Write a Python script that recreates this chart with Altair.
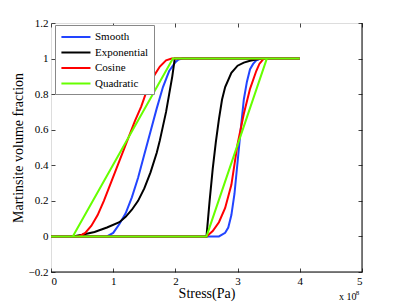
import altair as alt
import pandas as pd

series_names = ["Smooth", "Exponential", "Cosine", "Quadratic"]
series_colors = ["#2244ff", "#000000", "#ff0000", "#66ff00"]

smooth_x = [0, 2.5, 2.7, 2.8, 2.85, 2.9, 2.95, 3.0, 3.05, 3.1, 3.15, 3.2, 3.25, 3.3, 3.37, 4.0,
            2.12, 2.05, 2.0, 1.9, 1.8, 1.7, 1.6, 1.5, 1.4, 1.3, 1.2, 1.1, 1.0, 0.9]
smooth_y = [0, 0, 0, 0.02, 0.05, 0.12, 0.24, 0.42, 0.6, 0.77, 0.87, 0.94, 0.97, 0.99, 1.0, 1.0,
            1.0, 0.995, 0.98, 0.93, 0.84, 0.72, 0.59, 0.46, 0.33, 0.22, 0.13, 0.07, 0.02, 0]

exp_x = [0, 2.5, 2.55, 2.6, 2.65, 2.7, 2.75, 2.8, 2.9, 3.0, 3.1, 3.2, 3.3, 3.4, 4.0,
         1.99, 1.95, 1.9, 1.85, 1.8, 1.75, 1.7, 1.6, 1.5, 1.4, 1.3, 1.2, 1.1, 0.9, 0.7, 0.5, 0.35]
exp_y = [0, 0, 0.2, 0.38, 0.53, 0.66, 0.77, 0.84, 0.92, 0.96, 0.977, 0.988, 0.995, 1.0, 1.0,
         1.0, 0.9, 0.8, 0.7, 0.62, 0.54, 0.47, 0.36, 0.27, 0.2, 0.15, 0.11, 0.08, 0.05, 0.025, 0.01, 0]

cos_x = [0, 2.5, 2.6, 2.7, 2.8, 2.9, 3.0, 3.1, 3.2, 3.3, 3.35, 3.42, 4.0,
         1.94, 1.85, 1.75, 1.65, 1.55, 1.45, 1.35, 1.25, 1.15, 1.05, 0.95, 0.85, 0.75, 0.65, 0.55, 0.45]
cos_y = [0, 0, 0.03, 0.08, 0.16, 0.29, 0.52, 0.69, 0.83, 0.93, 0.97, 1.0, 1.0,
         1.0, 0.99, 0.955, 0.9, 0.83, 0.73, 0.65, 0.56, 0.47, 0.38, 0.29, 0.2, 0.12, 0.06, 0.02, 0]

quad_x = [0, 2.5, 3.47, 4.0, 1.96, 0.35]
quad_y = [0, 0, 1.0, 1.0, 1.0, 0]

x_ticks = [0, 1, 2, 3, 4, 5]
y_ticks = [-0.2, 0, 0.2, 0.4, 0.6, 0.8, 1.0, 1.2]

rows = []
for name, xs, ys in [("Smooth", smooth_x, smooth_y), ("Exponential", exp_x, exp_y),
                     ("Cosine", cos_x, cos_y), ("Quadratic", quad_x, quad_y)]:
    for i, (a, b) in enumerate(zip(xs, ys)):
        rows.append({"series": name, "x": a, "y": b, "i": i})
df = pd.DataFrame(rows)

FONT = "Liberation Serif"
xscale = alt.Scale(domain=[0, 5], nice=False, zero=False)
yscale = alt.Scale(domain=[-0.2, 1.2], nice=False, zero=False)
color = alt.Color("series:N", scale=alt.Scale(domain=series_names, range=series_colors),
                  legend=alt.Legend(title=None, orient="none", legendX=4, legendY=2,
                                    strokeColor="#888888", fillColor="white", padding=5,
                                    symbolType="M-1,0H4.2", symbolStrokeWidth=2, symbolSize=125,
                                    rowPadding=3.5, labelFont=FONT, labelFontSize=11,
                                    labelColor="black", labelOffset=21))

x_axis = alt.Axis(values=x_ticks, format="~g", tickSize=4, offset=-4, domain=False, grid=False,
                  labelFont=FONT, labelFontSize=11, labelColor="black", labelPadding=3,
                  tickColor="#444", title="Stress(Pa)", titleFont=FONT, titleFontSize=14,
                  titleFontWeight="normal", titleColor="black", titlePadding=0)
y_axis = alt.Axis(values=y_ticks, format="~g", tickSize=4, offset=-4, domain=False, grid=False,
                  labelFont=FONT, labelFontSize=11, labelColor="black", labelPadding=3,
                  tickColor="#444", title="Martinsite volume fraction", titleFont=FONT,
                  titleFontSize=14, titleFontWeight="normal", titleColor="black", titlePadding=3)

layers = []
for k, name in enumerate(series_names):
    layers.append(
        alt.Chart(df).transform_filter(alt.datum.series == name).mark_line(strokeWidth=2, clip=True).encode(
            x=alt.X("x:Q", scale=xscale, axis=x_axis if k == 0 else None),
            y=alt.Y("y:Q", scale=yscale, axis=y_axis if k == 0 else None),
            color=color,
            order="i:Q",
        )
    )

top_right = alt.Chart(df).mark_point(opacity=0).encode(
    x=alt.X("x:Q", scale=xscale, axis=alt.Axis(orient="top", values=x_ticks, labels=False, tickSize=4,
                                                 offset=-4, domain=False, grid=False, title=None,
                                                 tickColor="#444")),
    y=alt.Y("y:Q", scale=yscale, axis=alt.Axis(orient="right", values=y_ticks, labels=False, tickSize=4,
                                                 offset=-4, domain=False, grid=False, title=None,
                                                 tickColor="#444")),
)

one = pd.DataFrame({"a": [0]})
right_edge = alt.Chart(one).mark_rule(color="black", strokeWidth=1).encode(
    x=alt.XDatum(5, scale=xscale, axis=None), y=alt.YDatum(-0.2, scale=yscale, axis=None),
    y2=alt.Y2Datum(1.2))
bottom_edge = alt.Chart(one).mark_rule(color="black", strokeWidth=1).encode(
    y=alt.YDatum(-0.2, scale=yscale, axis=None), x=alt.XDatum(0, scale=xscale, axis=None),
    x2=alt.X2Datum(5))

exp_text = alt.Chart(one).mark_text(
    text="x 10", font=FONT, fontSize=10, align="left", baseline="middle", color="black").encode(
    x=alt.XDatum(4.63, scale=xscale, axis=None), y=alt.YDatum(-0.342, scale=yscale, axis=None))
exp_sup = alt.Chart(one).mark_text(
    text="8", font=FONT, fontSize=7, align="left", baseline="middle", color="black").encode(
    x=alt.XDatum(4.9, scale=xscale, axis=None), y=alt.YDatum(-0.318, scale=yscale, axis=None))

chart = alt.layer(*layers, top_right, right_edge, bottom_edge, exp_text, exp_sup).resolve_axis(
    x="independent", y="independent"
).properties(
    width=311, height=249, autosize="none",
    padding={"left": 43, "top": 15, "right": 20, "bottom": 35},
).configure_view(stroke="#999999", strokeWidth=1.5).configure_legend(
    labelFont=FONT, labelFontSize=11
).configure(background="white", font=FONT)

chart.save("out.html", embed_options={"renderer": "svg", "actions": False})
